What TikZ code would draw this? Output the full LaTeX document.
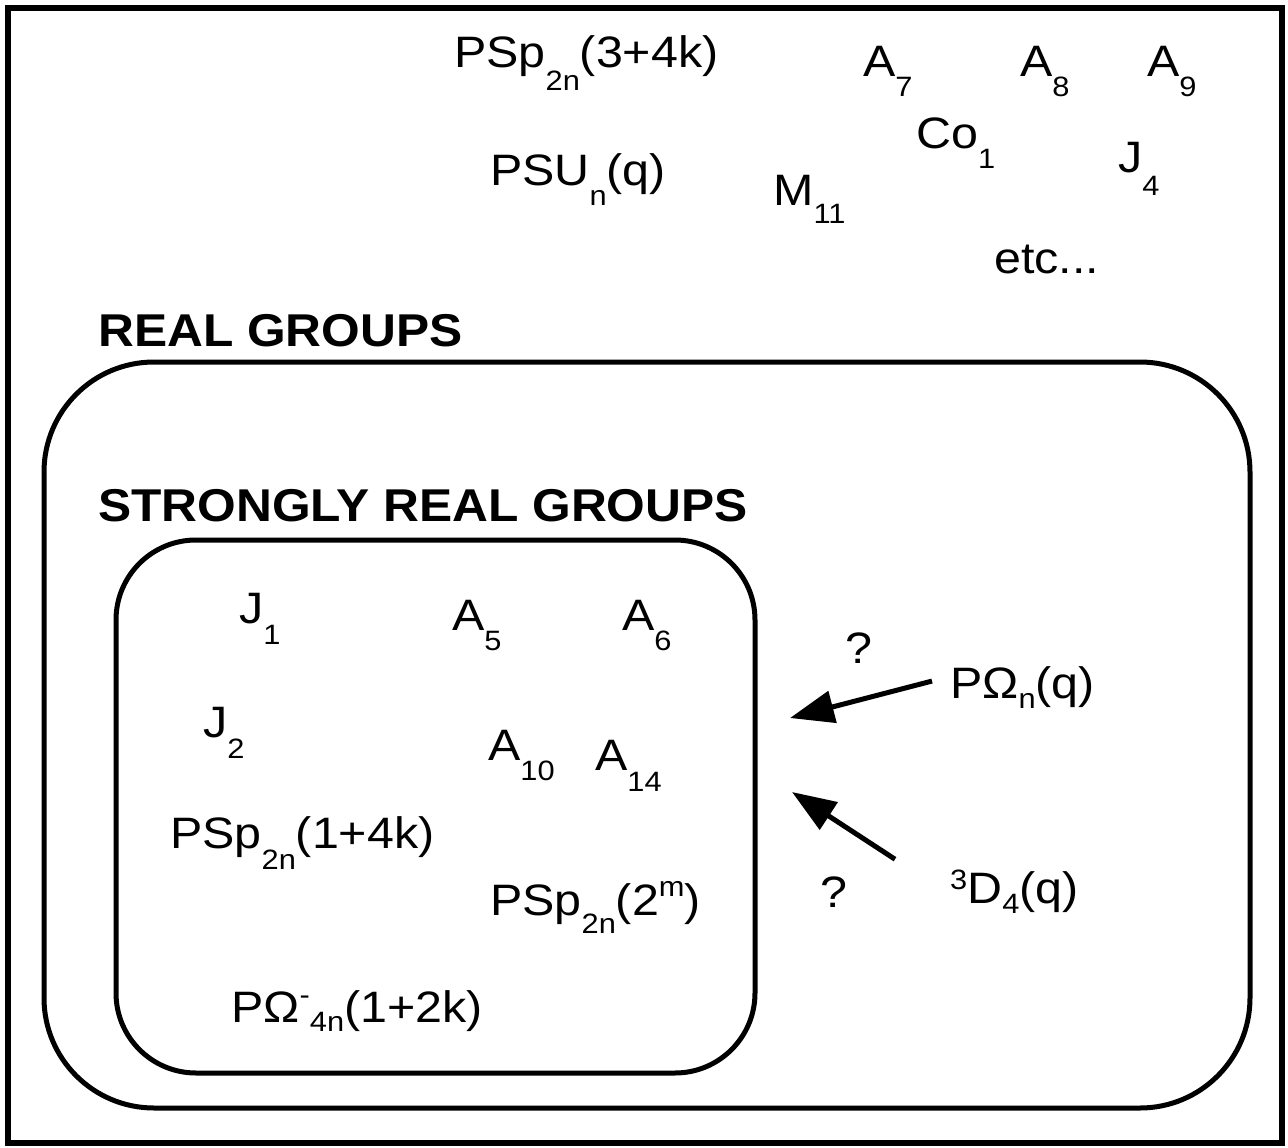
\documentclass[tikz,border=0pt]{standalone}
\usepackage{fontspec}
\setmainfont[FakeStretch=1.1]{Liberation Sans}
\newfontfamily\headfont[FakeStretch=1.08]{Liberation Sans}
\usetikzlibrary{arrows.meta}
\newcommand\lowsub[2][21pt]{\raisebox{-#1}{\fontsize{28}{28}\selectfont #2}}
\newcommand\highsup[2][19pt]{\raisebox{#1}{\fontsize{28}{28}\selectfont #2}}
\newcommand\grpsize{\fontsize{44}{50}\selectfont}
\newcommand\headsize{\headfont\bfseries\fontsize{46}{52}\selectfont}
\tikzset{
  grp/.style={anchor=base west,inner sep=0pt,font=\grpsize},
  head/.style={anchor=base west,inner sep=0pt,font=\headsize},
  qarrow/.style={line width=5pt,-{Triangle[length=44pt,width=32pt]}},
}

\begin{document}
\begin{tikzpicture}[x=1pt,y=-1pt]
  \useasboundingbox(0,0)rectangle(1288,1148);
  \draw[line width=6pt](8,8)rectangle(1282,1143);
  \draw[line width=5pt,rounded corners=110pt](44,362)rectangle(1250,1108);
  \draw[line width=5pt,rounded corners=80pt](116,540)rectangle(755,1073);
  % groups outside
  \node[grp](pspa) at (454,67) {PSp\lowsub[23pt]{2n}(3+4k)};
  \node[grp](psu)  at (490,185) {PSU\lowsub[20pt]{n}(q)};
  \node[grp](m11)  at (773,205) {M\lowsub[18pt]{11}};
  \node[grp](a7)   at (863,77) {A\lowsub[20pt]{7}};
  \node[grp](a8)   at (1020,77) {A\lowsub[20pt]{8}};
  \node[grp](a9)   at (1147,77) {A\lowsub[20pt]{9}};
  \node[grp](co1)  at (916,148) {Co\lowsub[20pt]{1}};
  \node[grp](j4)   at (1118,172) {J\lowsub[23pt]{4}};
  \node[grp](etc)  at (994,273) {etc...};
  \node[head](real)   at (98,346) {REAL GROUPS};
  \node[head](strong) at (98,521) {STRONGLY REAL GROUPS};
  % strongly real
  \node[grp](j1)   at (239,623) {J\lowsub{1}};
  \node[grp](a5)   at (452,630) {A\lowsub[20pt]{5}};
  \node[grp](a6)   at (622,630) {A\lowsub[20pt]{6}};
  \node[grp](j2)   at (203,737) {J\lowsub{2}};
  \node[grp](a10)  at (488,760) {A\lowsub[20pt]{10}};
  \node[grp](a14)  at (595,770) {A\lowsub{14}};
  \node[grp](pspb) at (170,848) {PSp\lowsub{2n}(1+4k)};
  \node[grp](pspc) at (490,915) {PSp\lowsub[18pt]{2n}(2\highsup{m})};
  \node[grp](pomm) at (231,1022) {PΩ\highsup[18pt]{-}\lowsub[9pt]{4n}(1+2k)};
  % open cases
  \node[grp](qa)   at (845,663) {?};
  \node[grp](qb)   at (820,907) {?};
  \node[grp](pom)  at (950,698) {PΩ\lowsub[10pt]{n}(q)};
  \node[grp](tdf)  at (950,903) {\highsup[14pt]{3}D\lowsub[10pt]{4}(q)};
  \coordinate(tipa) at (790,718);
  \coordinate(tipb) at (792,792);
  \draw[qarrow]([shift={(-18,-6)}]pom.west)--(tipa);
  \draw[qarrow]([shift={(-55,-32)}]tdf.west)--(tipb);
\end{tikzpicture}
\end{document}
